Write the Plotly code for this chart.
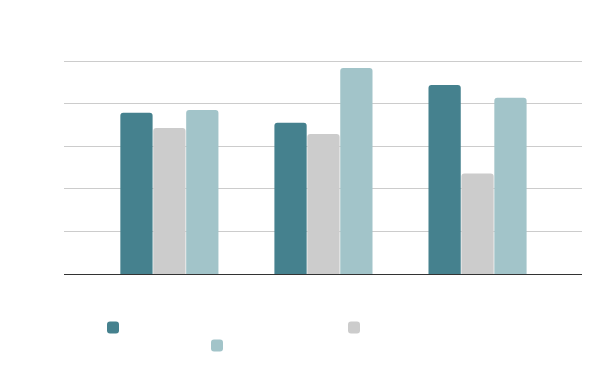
import plotly.graph_objects as go

categories = ["Group 1", "Group 2", "Group 3"]
series_names = [" ", " ", " "]
series_a = [3.79, 3.55, 4.44]
series_b = [3.43, 3.29, 2.36]
series_c = [3.85, 4.84, 4.14]
colors = ["#45818e", "#cccccc", "#a2c4c9"]

fig = go.Figure()
for i, (vals, leg) in enumerate(zip([series_a, series_b, series_c], ["legend", "legend2", "legend3"])):
    fig.add_trace(go.Bar(
        x=categories, y=vals, name=series_names[i],
        marker=dict(color=colors[i], line=dict(width=0), cornerradius=3),
        legend=leg, hoverinfo="skip",
    ))

leg_common = dict(orientation="h", xref="container", yref="container",
                  xanchor="left", yanchor="top", bgcolor="rgba(0,0,0,0)",
                  font=dict(size=12, color="#ffffff"), borderwidth=0)

fig.update_layout(
    width=600, height=371,
    margin=dict(l=56, r=26, t=51, b=105),
    paper_bgcolor="white", plot_bgcolor="white",
    barmode="group", bargap=0.359, bargroupgap=0.02,
    showlegend=True,
    legend=dict(x=(107 - 22) / 600, y=1 - 305 / 371, **leg_common),
    legend2=dict(x=(348 - 22) / 600, y=1 - 305 / 371, **leg_common),
    legend3=dict(x=(211 - 22) / 600, y=1 - 323 / 371, **leg_common),
    xaxis=dict(type="category", range=[-0.684, 2.678], showticklabels=False,
               showline=True, linecolor="#333333", linewidth=1, ticks="",
               showgrid=False, zeroline=False),
    yaxis=dict(range=[0, 5.05], dtick=1, showticklabels=False, showgrid=True,
               gridcolor="#cccccc", gridwidth=1, zeroline=False, ticks="",
               showline=False),
)

fig.write_html("out.html")
